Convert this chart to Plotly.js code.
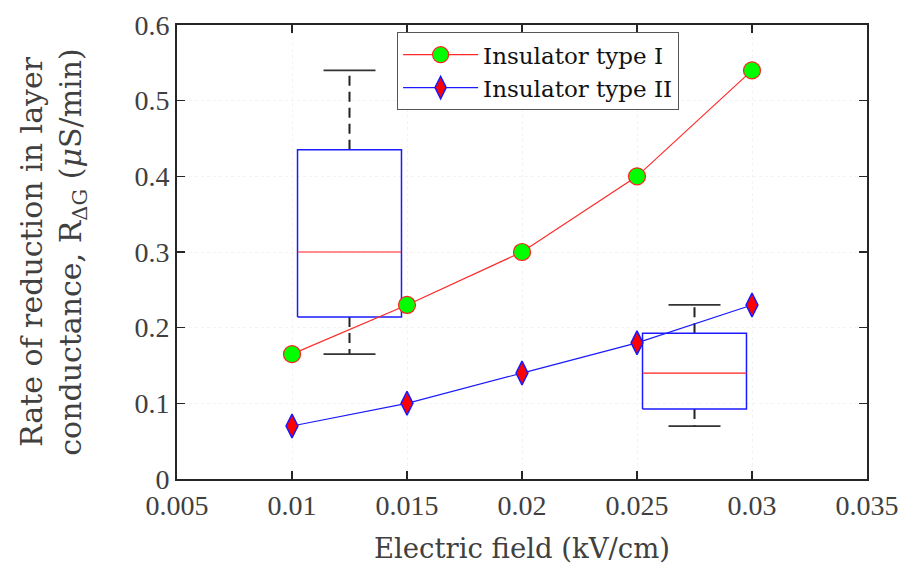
<!DOCTYPE html>
<html><head><meta charset="utf-8">
<script src="https://cdn.plot.ly/plotly-3.0.1.min.js"></script>
<style>html,body{margin:0;padding:0;background:#fff}#chart{width:902px;height:568px}</style>
</head><body><div id="chart"></div>
<script>
// Data
const fieldKVcm = [0.01, 0.015, 0.02, 0.025, 0.03];
const typeI = [0.165, 0.23, 0.30, 0.40, 0.54];
const typeII = [0.07, 0.10, 0.14, 0.18, 0.23];
const seriesNames = ["Insulator type I", "Insulator type II"];
const xTicks = [0.005, 0.01, 0.015, 0.02, 0.025, 0.03, 0.035];
const xTickLabels = ["0.005", "0.01", "0.015", "0.02", "0.025", "0.03", "0.035"];
const yTicks = [0, 0.1, 0.2, 0.3, 0.4, 0.5, 0.6];
const yTickLabels = ["0", "0.1", "0.2", "0.3", "0.4", "0.5", "0.6"];
// Box summaries: position, lower whisker, Q1, median, Q3, upper whisker
const boxPos = [0.0125, 0.0275];
const boxLow = [0.165, 0.07];
const boxQ1 = [0.214, 0.0925];
const boxMed = [0.30, 0.14];
const boxQ3 = [0.435, 0.1925];
const boxHigh = [0.54, 0.23];
const boxHalfWidth = 0.00226;
const capHalfWidth = 0.00113;

const tickFont = "'Liberation Serif', 'Times New Roman', serif";
const titleFont = "'DejaVu Serif', serif";
const traces = [];
for (let i = 0; i < boxPos.length; i++) {
  const c = boxPos[i];
  traces.push({x:[c, c, null, c, c], y:[boxQ3[i], boxHigh[i], null, boxQ1[i], boxLow[i]],
    mode:'lines', line:{color:'#222', width:2, dash:'10px,6px'}, showlegend:false, hoverinfo:'skip'});
  traces.push({x:[c-capHalfWidth, c+capHalfWidth, null, c-capHalfWidth, c+capHalfWidth],
    y:[boxHigh[i], boxHigh[i], null, boxLow[i], boxLow[i]],
    mode:'lines', line:{color:'#333', width:1.8}, showlegend:false, hoverinfo:'skip'});
  traces.push({x:[c-boxHalfWidth, c+boxHalfWidth, c+boxHalfWidth, c-boxHalfWidth, c-boxHalfWidth],
    y:[boxQ1[i], boxQ1[i], boxQ3[i], boxQ3[i], boxQ1[i]],
    mode:'lines', line:{color:'#1a1aff', width:1.5}, showlegend:false, hoverinfo:'skip'});
  traces.push({x:[c-boxHalfWidth, c+boxHalfWidth], y:[boxMed[i], boxMed[i]],
    mode:'lines', line:{color:'#ff2020', width:1.2}, showlegend:false, hoverinfo:'skip'});
}
traces.push({x:fieldKVcm, y:typeI, name:seriesNames[0], mode:'lines+markers',
  line:{color:'#ff2a2a', width:1.2},
  marker:{symbol:'circle', size:17, color:'#00ff00', line:{color:'#ff2020', width:1.2}}});
traces.push({x:fieldKVcm, y:typeII, name:seriesNames[1], mode:'lines+markers',
  line:{color:'#1a1aff', width:1.2},
  marker:{symbol:'diamond-tall', size:17, color:'#ff0000', line:{color:'#1a1aff', width:1.5}}});

const axisCommon = {showline:true, mirror:'ticks', linecolor:'#262626', linewidth:2,
  ticks:'inside', ticklen:8, tickwidth:1.5, tickcolor:'#262626',
  showgrid:true, gridcolor:'#f3f3f3', griddash:'dot', gridwidth:1, zeroline:false,
  tickfont:{family:tickFont, size:28, color:'#404040'}};

const layout = {
  width:902, height:568, paper_bgcolor:'#fff', plot_bgcolor:'#fff',
  margin:{l:177, r:35, t:25, b:89},
  font:{family:titleFont, color:'#404040'},
  xaxis:Object.assign({}, axisCommon, {range:[0.005,0.035], tickvals:xTicks, ticktext:xTickLabels,
    title:{text:'Electric field (kV/cm)', font:{family:titleFont, size:27.5, color:'#404040'}, standoff:19}}),
  yaxis:Object.assign({}, axisCommon, {range:[0,0.6], tickvals:yTicks, ticktext:yTickLabels,
    title:{text:'Rate of reduction in layer<br>conductance, R<sub>ΔG</sub> (<i>μ</i>S/min)', font:{family:titleFont, size:30, color:'#404040'}, standoff:44}}),
  showlegend:true,
  legend:{x:0.319, xanchor:'left', y:0.984, yanchor:'top', bgcolor:'#fff', bordercolor:'#555', borderwidth:1,
    font:{family:titleFont, size:23, color:'#111'}, itemwidth:75, tracegroupgap:0}
};
Plotly.newPlot('chart', traces, layout, {staticPlot:true});
</script></body></html>
